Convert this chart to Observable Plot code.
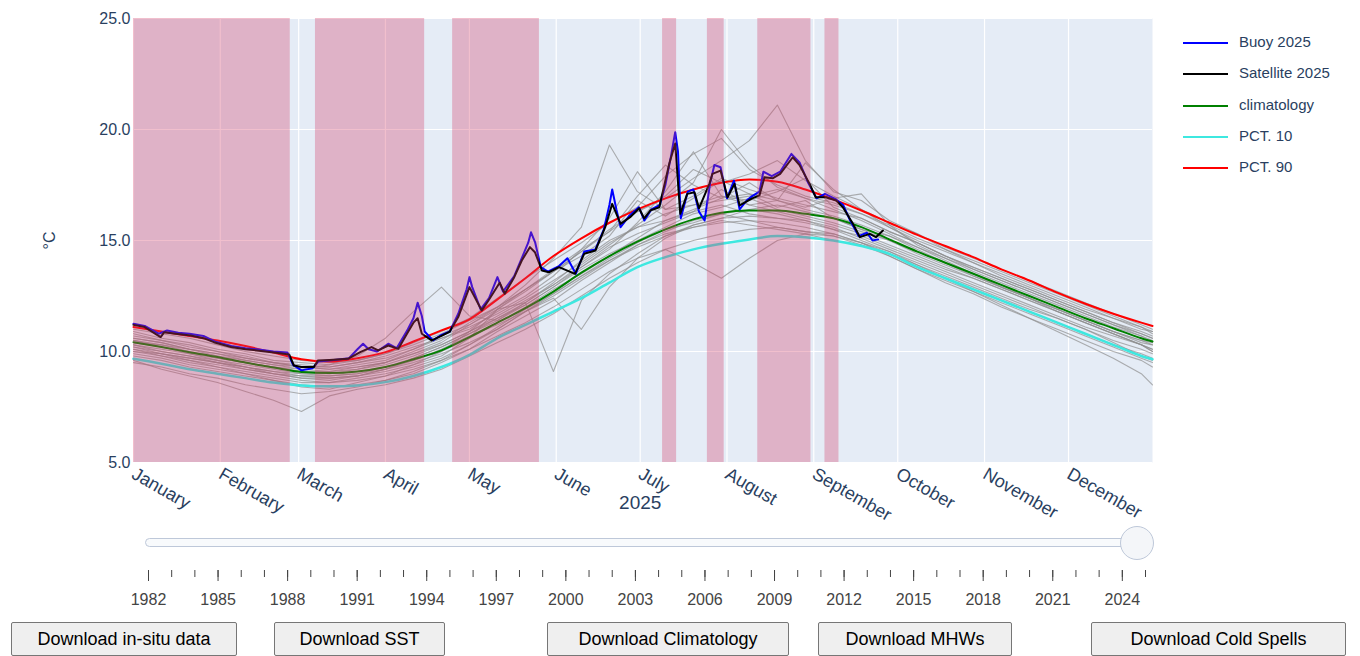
<!DOCTYPE html>
<html><head><meta charset="utf-8">
<script src="https://cdn.jsdelivr.net/npm/d3@7"></script>
<script src="https://cdn.jsdelivr.net/npm/@observablehq/plot@0.6"></script>
<style>
body{margin:0;width:1360px;height:656px;position:relative;background:#fff;font-family:"Liberation Sans",Arial,sans-serif;overflow:hidden}
#chart{position:absolute;left:0;top:0}
#slider{position:absolute;left:0;top:556px}
.track{position:absolute;left:145px;top:538px;width:993px;height:7px;border:1px solid #bec8d9;border-radius:5px;background:#f8fafc}
.handle{position:absolute;top:526px;width:32px;height:32px;border-radius:50%;border:1px solid #bec8d9;background:#f4f6f9}
.leg{position:absolute;left:1183px;font-size:15px;color:#2a3f5f;height:20px;line-height:20px;white-space:nowrap}
.leg i{display:inline-block;width:45px;height:2px;vertical-align:middle;margin-right:11px}
button{position:absolute;top:622px;height:34px;font:18px "Liberation Sans",Arial,sans-serif;background:#efefef;border:1px solid #767676;border-radius:2px;padding:0;color:#000}
</style>
</head><body>
<div id="chart"></div>
<div class="track"></div>
<div class="handle" id="handle"></div>
<div id="slider"></div>
<div id="legend"></div>
<div id="buttons"></div>
<script>
// ---------- data ----------
const year = 2025;
const climDays = [0,10,20,30,40,50,60,70,80,90,100,110,120,130,140,150,160,170,180,190,200,210,220,230,240,250,260,270,280,290,300,310,320,330,340,350,360,364];
const climatology = [10.42,10.2,9.97,9.75,9.5,9.28,9.08,9.03,9.1,9.3,9.65,10.05,10.65,11.3,11.95,12.7,13.55,14.3,14.95,15.5,15.95,16.25,16.35,16.35,16.2,16.0,15.6,15.05,14.5,14.0,13.5,13.0,12.5,12.0,11.5,11.05,10.6,10.45];
const pct10 = [9.67,9.45,9.2,9.0,8.8,8.6,8.47,8.43,8.47,8.62,8.9,9.3,9.85,10.6,11.2,11.8,12.4,13.1,13.8,14.25,14.6,14.85,15.05,15.2,15.15,15.0,14.75,14.4,13.8,13.3,12.8,12.3,11.8,11.3,10.8,10.3,9.8,9.65];
const pct90 = [11.1,10.9,10.7,10.5,10.25,9.95,9.65,9.55,9.7,9.97,10.45,10.95,11.45,12.35,13.3,14.3,15.1,15.8,16.4,16.9,17.3,17.6,17.75,17.65,17.3,16.85,16.35,15.8,15.25,14.75,14.25,13.7,13.2,12.65,12.15,11.7,11.3,11.15];

// past years (thin grey lines), values at climDays
const histLines = [
 [10.8,10.5,10.3,10.0,9.7,9.5,9.3,9.2,9.4,9.6,10.1,10.6,11.0,11.8,12.5,13.4,14.6,15.4,16.3,16.9,17.8,18.6,19.5,21.1,18.6,17.2,16.8,15.9,15.3,14.6,14.0,13.4,12.9,12.4,11.9,11.5,11.0,10.9],
 [10.6,10.4,10.1,9.9,9.6,9.4,9.2,9.1,9.3,9.5,10.0,10.5,11.3,12.0,13.0,14.2,15.6,19.3,17.2,16.4,17.0,17.8,17.3,16.9,16.6,16.3,16.0,15.4,14.9,14.3,13.8,13.3,12.8,12.3,11.8,11.3,10.8,10.6],
 [9.6,9.2,8.9,8.6,8.2,7.8,7.3,8.0,8.3,8.5,8.8,9.2,9.8,10.4,11.0,11.7,12.5,13.3,14.0,14.6,15.0,15.3,15.5,15.6,15.4,15.2,14.8,14.3,13.7,13.2,12.7,12.2,11.7,11.2,10.7,10.2,9.7,9.5],
 [10.5,10.3,10.0,9.8,9.5,9.3,9.2,9.4,9.8,10.6,11.8,12.9,11.6,11.4,12.2,13.0,13.9,14.8,15.7,16.6,17.6,20.0,18.4,17.4,16.9,16.4,15.9,15.3,14.7,14.2,13.7,13.2,12.7,12.2,11.7,11.2,10.8,10.6],
 [10.2,10.0,9.8,9.5,9.3,9.1,8.9,8.8,8.9,9.1,9.4,9.8,10.6,11.9,12.2,9.1,12.3,13.5,14.4,15.2,15.7,16.0,16.4,16.6,16.3,16.0,15.5,15.0,14.4,13.9,13.4,12.9,12.4,11.9,11.4,10.9,10.4,10.3],
 [10.0,9.8,9.6,9.3,9.1,8.9,8.7,8.6,8.7,8.9,9.2,9.6,10.1,10.7,11.3,12.0,12.8,13.6,14.2,14.6,14.0,13.3,14.2,15.0,15.3,15.2,14.9,14.5,14.0,13.5,13.0,12.5,12.0,11.5,11.0,10.4,9.8,9.6],
 [10.3,10.1,9.9,9.6,9.4,9.2,9.0,8.9,9.0,9.2,9.5,9.9,10.4,11.0,11.8,12.4,11.0,12.9,14.2,15.1,15.7,16.0,16.1,16.0,15.8,15.5,15.0,14.5,13.9,13.3,12.7,12.1,11.5,10.9,10.3,9.7,9.0,8.5],
 [11.0,10.8,10.6,10.3,10.0,9.8,9.6,9.5,9.6,9.9,10.3,10.8,11.4,12.0,12.8,13.6,14.5,15.5,16.3,17.0,18.2,17.6,18.0,18.6,17.7,17.0,16.4,15.8,15.3,14.7,14.2,13.7,13.2,12.7,12.2,11.7,11.2,11.0],
 [10.4,10.2,9.9,9.7,9.5,9.3,9.1,9.0,9.1,9.3,9.6,10.0,10.6,11.3,12.0,12.8,13.5,14.3,15.1,15.9,16.4,16.9,17.1,16.8,16.5,16.9,17.1,15.7,14.8,14.2,13.6,13.1,12.6,12.1,11.6,11.1,10.7,10.5],
 [9.8,9.6,9.3,9.1,8.9,8.7,8.5,8.4,8.5,8.7,9.0,9.5,10.1,10.9,11.6,12.3,13.2,14.0,14.8,15.3,15.6,15.9,15.7,15.5,15.3,15.0,14.8,14.4,13.9,13.4,12.9,12.4,11.9,11.5,11.0,10.5,10.1,9.9],
 [10.6,10.4,10.1,9.9,9.7,9.5,9.3,9.2,9.3,9.5,9.9,10.3,10.9,11.6,12.3,13.0,13.8,14.6,15.8,17.2,19.0,17.0,16.8,17.2,17.8,16.5,16.0,15.4,14.9,14.3,13.8,13.3,12.8,12.3,11.8,11.3,10.9,10.7],
 [10.1,9.9,9.7,9.5,9.3,9.1,9.0,9.0,9.2,9.5,9.9,10.4,11.2,12.0,12.8,13.7,14.6,16.0,18.1,16.4,16.6,17.0,16.6,16.3,16.0,15.7,15.3,14.8,14.3,13.8,13.3,12.8,12.3,11.8,11.3,10.8,10.3,10.1],
 [10.7,10.5,10.2,10.0,9.8,9.5,9.4,9.3,9.5,9.8,10.2,10.6,11.1,11.7,12.4,13.2,14.0,14.9,15.6,16.2,16.6,16.8,17.0,17.3,16.9,16.6,16.2,15.6,15.0,14.5,14.0,13.5,13.0,12.5,12.0,11.5,11.1,10.9],
 [9.9,9.7,9.4,9.2,9.0,8.8,8.6,8.6,8.8,9.0,9.3,9.7,10.3,11.0,11.8,12.6,13.4,14.1,14.7,15.2,15.6,15.8,15.9,15.8,15.6,15.3,14.9,14.4,13.8,13.3,12.8,12.3,11.8,11.3,10.8,10.3,9.9,9.7],
 [10.3,10.0,9.8,9.6,9.3,9.0,8.8,8.8,8.9,9.2,9.7,10.2,10.8,11.5,12.1,12.9,13.7,14.4,15.0,15.6,16.2,16.5,16.9,16.4,16.1,15.8,15.4,15.0,14.5,14.0,13.5,12.9,12.4,11.9,11.4,10.9,10.5,10.3],
 [10.5,10.2,10.0,9.7,9.5,9.3,9.1,9.1,9.2,9.4,9.8,10.3,10.9,11.5,12.2,13.1,14.1,15.0,15.6,15.9,16.3,16.6,16.2,16.0,15.9,15.6,15.1,14.6,14.1,13.6,13.1,12.6,12.1,11.6,11.1,10.7,10.3,10.1],
 [10.9,10.6,10.4,10.1,9.9,9.6,9.5,9.4,9.6,9.9,10.4,10.9,11.5,12.4,13.3,14.1,14.9,15.8,16.5,17.9,18.9,19.6,18.2,17.5,17.0,16.7,16.2,15.7,15.1,14.6,14.1,13.6,13.1,12.6,12.1,11.6,11.1,10.8],
 [9.5,9.3,9.0,8.8,8.5,8.3,8.1,8.2,8.4,8.7,9.1,9.6,10.3,11.1,11.9,12.6,13.4,14.2,14.9,15.5,15.8,16.2,15.9,15.6,15.4,15.3,14.9,14.3,13.7,13.1,12.6,12.0,11.5,11.0,10.5,10.0,9.6,9.3],
 [10.1,9.8,9.5,9.3,9.0,8.7,8.4,8.3,8.6,8.9,9.4,10.0,10.9,11.9,12.7,13.6,14.3,15.2,16.8,16.1,16.9,17.7,17.1,16.5,16.8,16.0,15.5,15.2,14.7,14.1,13.5,13.0,12.4,11.8,11.3,10.8,10.3,10.0],
 [10.4,10.3,10.1,9.8,9.6,9.4,9.3,9.3,9.5,9.7,10.1,10.7,11.2,11.9,12.8,13.6,14.5,15.4,17.0,18.4,17.5,16.9,17.6,16.8,16.4,16.1,15.7,15.2,14.6,14.0,13.4,12.9,12.4,11.9,11.4,10.9,10.5,10.4],
 [10.0,9.9,9.6,9.4,9.2,9.0,8.9,8.9,9.0,9.3,9.7,10.2,10.8,11.4,12.1,12.9,13.8,14.7,15.3,15.8,16.3,17.3,16.6,16.8,18.5,17.3,16.4,15.6,14.9,14.3,13.7,13.2,12.7,12.2,11.7,11.2,10.7,10.4],
 [10.2,9.9,9.7,9.5,9.2,9.0,8.8,8.7,8.9,9.2,9.6,10.1,10.7,11.2,11.8,12.5,13.3,14.1,14.8,15.4,15.9,16.2,16.4,16.2,15.9,15.5,15.2,14.7,14.2,13.7,13.3,12.8,12.3,11.8,11.3,10.8,10.3,10.0]
];

// 2025 observations (day of year, deg C)
const satDays = [0,4,9.7,11,15,20.4,25,28.7,34.8,40,44,51.6,55.6,57.3,60,64.5,65.9,70,76.6,81,85,87.4,91,94.6,98,100,101.5,103,106.5,110,113,116,120,124.4,126.8,130.8,132.6,136,138.7,141.6,143.4,145.9,148.4,152,157.7,161,165,168.5,171,174,177.4,180.6,182.4,184.6,187.8,191.4,193.5,195.3,197.8,200.4,202,205.7,206.8,209.7,212.2,214.7,216.5,218.6,221,223.6,225.4,228.3,231,235.5,238,241.5,243.7,247.3,251,253.4,257,259.5,263,265.2,267.7];
const satVals = [11.2,11.1,10.65,10.87,10.8,10.72,10.6,10.42,10.2,10.1,10.05,9.93,9.87,9.37,9.3,9.3,9.6,9.62,9.67,9.97,10.2,10.05,10.27,10.12,10.87,11.3,11.5,10.8,10.5,10.7,10.9,11.55,12.9,11.85,12.3,13.1,12.6,13.35,14.1,14.7,14.47,13.65,13.57,13.8,13.5,14.4,14.55,15.6,16.65,15.75,16.05,16.45,16.0,16.35,16.5,18.47,19.37,16.2,17.1,17.17,16.45,17.55,18.0,18.15,16.95,17.55,16.58,16.73,16.9,17.03,17.85,17.8,18.0,18.75,18.38,17.55,16.95,16.95,16.8,16.5,15.75,15.15,15.3,15.15,15.45];
const buoyDays = [0,4,9,12,16,20,25,29,35,40,44,50,55,57,60,64,66,70,77,80,82,84,87,91,94,98,100,101.5,103,104,107,110,113,116,119,120,121,124,127,130,132,136,139,141,142,143.5,145.5,148,152,155,158,161,165,168,170,171,172.5,174,177,180.5,182.5,185,188,190,192,193.5,194.5,195.5,198,200,202,204,206,207.5,209.7,212,214.5,216.5,219,221,223.6,225,228,231,235,238,241,244,247,251,253.5,256,259,262,264,266];
const buoyVals = [11.25,11.15,10.8,10.95,10.85,10.8,10.7,10.45,10.25,10.15,10.1,10.0,9.95,9.4,9.15,9.25,9.55,9.6,9.7,10.1,10.35,10.1,10.0,10.35,10.15,11.0,11.5,12.2,11.6,10.9,10.5,10.75,10.9,11.7,12.8,13.35,12.9,11.9,12.4,13.35,12.7,13.4,14.3,14.9,15.37,14.9,13.8,13.6,13.85,14.2,13.5,14.5,14.6,15.5,16.6,17.3,16.4,15.6,16.1,16.5,15.9,16.4,16.6,17.5,18.8,19.88,19.0,16.0,17.2,17.3,16.3,15.9,17.6,18.4,18.3,16.9,17.7,16.4,16.8,17.0,17.2,18.1,17.9,18.1,18.9,18.5,17.6,16.9,17.1,16.85,16.6,15.9,15.2,15.35,15.0,15.05];

// marine heatwave periods
const mhwStart = ["2025-01-01","2025-03-07","2025-04-25","2025-07-09","2025-07-25","2025-08-12","2025-09-05"];
const mhwEnd   = ["2025-02-26","2025-04-15","2025-05-26","2025-07-14","2025-07-31","2025-08-31","2025-09-10"];

const yTicks = [5,10,15,20,25];
const legendNames = ["Buoy 2025","Satellite 2025","climatology","PCT. 10","PCT. 90"];
const legendColors = ["#0000ff","#000000","#008000","#3ee8e0","#ff0000"];
const sliderMajorYears = [1982,1985,1988,1991,1994,1997,2000,2003,2006,2009,2012,2015,2018,2021,2024];
const sliderFirst = 1982, sliderLast = 2025;
const buttonLabels = ["Download in-situ data","Download SST","Download Climatology","Download MHWs","Download Cold Spells"];

// ---------- build ----------
const t0 = Date.UTC(year,0,1);
const day = d => new Date(t0 + d*864e5);
const series = (days, vals) => days.map((d,i) => ({date: day(d), v: vals[i]}));
const histData = histLines.flatMap((vals,k) => vals.map((v,i) => ({date: day(climDays[i]), v, k})));
const mhw = mhwStart.map((s,i) => ({start: new Date(s+"T00:00Z"), end: new Date(mhwEnd[i]+"T00:00Z")}));
const monthTicks = d3.utcMonths(day(0), day(365));

const font = '"Liberation Sans", Arial, sans-serif';
const chart = Plot.plot({
  width: 1360, height: 535,
  marginLeft: 133, marginRight: 208, marginTop: 18, marginBottom: 73,
  style: {fontFamily: font, fontSize: "16px", color: "#2a3f5f", background: "transparent"},
  x: {type: "utc", domain: [day(0), day(364)]},
  y: {domain: [5, 25]},
  marks: [
    Plot.frame({fill: "#E5ECF6", stroke: "none"}),
    Plot.gridY({ticks: yTicks, stroke: "#fff", strokeOpacity: 1, strokeWidth: 1.2}),
    Plot.gridX({ticks: monthTicks, stroke: "#fff", strokeOpacity: 1, strokeWidth: 1.2}),
    Plot.lineY(histData, {x: "date", y: "v", z: "k", stroke: "#8f8f8f", strokeOpacity: 0.7, strokeWidth: 1.1}),
    Plot.lineY(series(climDays, pct10), {x: "date", y: "v", stroke: "#3ee8e0", strokeWidth: 2.5, curve: "monotone-x"}),
    Plot.lineY(series(climDays, climatology), {x: "date", y: "v", stroke: "#008000", strokeWidth: 2, curve: "monotone-x"}),
    Plot.lineY(series(climDays, pct90), {x: "date", y: "v", stroke: "#ff0000", strokeWidth: 2, curve: "monotone-x"}),
    Plot.lineY(series(buoyDays, buoyVals), {x: "date", y: "v", stroke: "#0000ff", strokeWidth: 2}),
    Plot.lineY(series(satDays, satVals), {x: "date", y: "v", stroke: "#000", strokeWidth: 2}),
    Plot.rect(mhw, {x1: "start", x2: "end", fill: "#d33c66", fillOpacity: 0.33}),
    Plot.axisY({ticks: yTicks, tickFormat: d => d.toFixed(1), tickSize: 0, tickPadding: 3, fontSize: 16,
      label: "°C", labelAnchor: "center", labelArrow: "none", labelOffset: 90}),
    Plot.axisX({ticks: monthTicks, tickFormat: d3.utcFormat("%B"), tickSize: 0, tickPadding: 10, tickRotate: 30, fontSize: 18, label: null}),
    Plot.text([String(year)], {x: () => day(181), frameAnchor: "bottom", dy: 46, fontSize: 19, text: d => d})
  ]
});
document.getElementById("chart").append(chart);

// slider axis
const allYears = d3.range(sliderFirst, sliderLast + 1);
const slider = Plot.plot({
  width: 1360, height: 60, marginLeft: 148, marginRight: 215, marginTop: 0, marginBottom: 46,
  style: {fontFamily: font, fontSize: "16px", color: "#444", background: "transparent"},
  x: {domain: [sliderFirst, sliderLast]},
  marks: [
    Plot.axisX({ticks: allYears, tickSize: 7, tickFormat: () => "", label: null}),
    Plot.axisX({ticks: sliderMajorYears, tickSize: 11, tickPadding: 12, tickFormat: d => String(d), label: null, fontSize: 16})
  ]
});
document.getElementById("slider").append(slider);
const hx = slider.scale("x").apply(sliderLast);
const handle = document.getElementById("handle");
handle.style.left = (hx - 25) + "px";

// legend
const leg = document.getElementById("legend");
legendNames.forEach((n,i) => {
  const d = document.createElement("div");
  d.className = "leg";
  d.style.top = (32 + i*31.3) + "px";
  d.innerHTML = `<i style="background:${legendColors[i]}"></i>${n}`;
  leg.append(d);
});

// buttons
const btnLeft = [11,274,547,818,1091], btnWidth = [226,171,242,194,255];
const bw = document.getElementById("buttons");
buttonLabels.forEach((b,i) => {
  const e = document.createElement("button");
  e.textContent = b;
  e.style.left = btnLeft[i] + "px";
  e.style.width = btnWidth[i] + "px";
  bw.append(e);
});
</script>
</body></html>
